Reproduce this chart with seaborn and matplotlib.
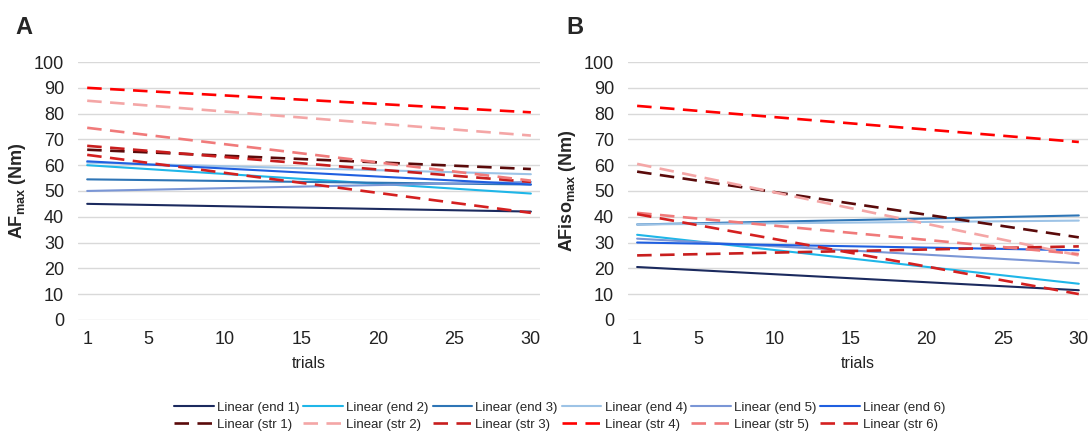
import matplotlib
matplotlib.use('Agg')
import matplotlib.pyplot as plt
import seaborn as sns
import pandas as pd

# linear trendlines: value at trial 1 and at trial 30
trials = [1, 30]
series = ['end 1', 'end 2', 'end 3', 'end 4', 'end 5', 'end 6',
          'str 1', 'str 2', 'str 3', 'str 4', 'str 5', 'str 6']
af_first = [45, 60, 54.5, 61, 50, 61.5, 66, 85, 67.5, 90, 74.5, 64]
af_last = [42, 49, 52.5, 56.5, 53.5, 52.5, 58.5, 71.5, 53.5, 80.5, 54, 41.5]
afiso_first = [20.5, 33, 37, 37, 31.5, 30, 57.5, 60.5, 25, 83, 41.5, 41]
afiso_last = [11.5, 14, 40.5, 38.5, 22, 27, 32, 25, 28.5, 69, 25.5, 10]

colors = ['#1B2A5E', '#1FB6E8', '#2E75B6', '#9DC3E6', '#7A96D6', '#1F5FE0',
          '#5A0A0A', '#F4A6A6', '#C81E1E', '#FF0000', '#F07A7A', '#D42020']

sns.set_theme(style='white')
plt.rcParams['font.family'] = ['Liberation Sans', 'DejaVu Sans']
plt.rcParams['mathtext.default'] = 'regular'

fig = plt.figure(figsize=(10.91, 4.34), dpi=100)
ax_a = fig.add_axes([0.0715, 0.263, 0.4235, 0.594])
ax_b = fig.add_axes([0.5756, 0.263, 0.4216, 0.594])


def draw_panel(ax, first, last, ylabel, letter):
    for name, y0, y1, c in zip(series, first, last, colors):
        df = pd.DataFrame({'trial': trials, 'value': [y0, y1]})
        if name.startswith('str'):
            sns.lineplot(data=df, x='trial', y='value', ax=ax, color=c,
                         linewidth=1.9, label='Linear (%s)' % name)
            ax.lines[-1].set_dashes((5.5, 3.2))
        else:
            sns.lineplot(data=df, x='trial', y='value', ax=ax, color=c,
                         linewidth=1.5, label='Linear (%s)' % name)
    ax.set_xlim(0.4, 30.6)
    ax.set_ylim(0, 100)
    ax.set_yticks(range(0, 101, 10))
    ax.set_xticks([1, 5, 10, 15, 20, 25, 30])
    ax.grid(axis='y', color='#D9D9D9', linewidth=1)
    ax.grid(axis='x', visible=False)
    ax.set_axisbelow(True)
    sns.despine(ax=ax, left=True, bottom=True)
    ax.tick_params(axis='y', labelsize=13, pad=10, length=0, colors='#222222')
    ax.tick_params(axis='x', labelsize=13, pad=8, length=0, colors='#222222')
    ax.set_xlabel('trials', fontsize=11.5, labelpad=6, color='#222222')
    ax.set_ylabel(ylabel, fontsize=13, fontweight='bold', labelpad=4)
    ax.get_legend().remove()
    ax.text(-0.135, 1.18, letter, transform=ax.transAxes, fontsize=17,
            fontweight='bold', va='top', ha='left')


draw_panel(ax_a, af_first, af_last, 'AF$_{max}$ (Nm)', 'A')
draw_panel(ax_b, afiso_first, afiso_last, 'AFiso$_{max}$ (Nm)', 'B')

handles, labels = ax_a.get_legend_handles_labels()
# interleave so row 1 = end series, row 2 = str series
order = []
for i in range(6):
    order += [i, i + 6]
fig.legend([handles[i] for i in order], [labels[i] for i in order],
           loc='lower center', bbox_to_anchor=(0.513, -0.02), ncol=6,
           frameon=False, handlelength=3.0, handletextpad=0.25,
           columnspacing=0.3, labelspacing=0.35,
           prop={'family': ['Liberation Sans Narrow', 'Liberation Sans'], 'size': 9.5})

fig.savefig('out.png', dpi=100)
